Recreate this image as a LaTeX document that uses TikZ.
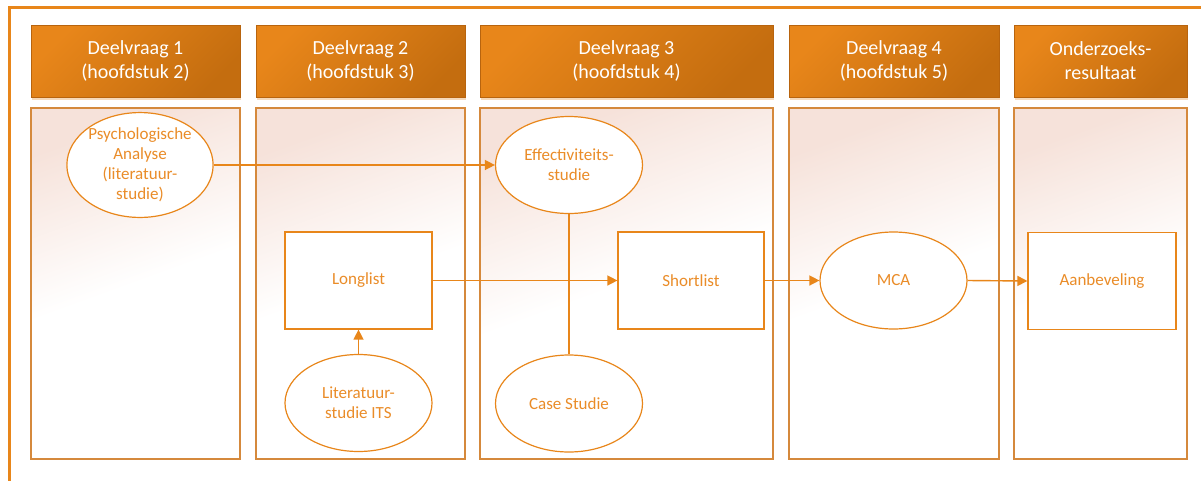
\documentclass[tikz,border=0pt]{standalone}
\usepackage{fontspec}
\setmainfont{Carlito}
\usetikzlibrary{shapes.geometric,arrows.meta,shadows}

\definecolor{accent}{HTML}{E8861A}
\definecolor{labeltxt}{HTML}{EA8C28}
\definecolor{hdrA}{HTML}{E8861A}
\definecolor{hdrB}{HTML}{C46D0F}
\definecolor{hdrEdge}{HTML}{B8640E}
\definecolor{hdrShade}{HTML}{F0C08C}
\definecolor{laneA}{HTML}{F6E2DA}
\definecolor{laneEdge}{HTML}{D5893C}

\tikzset{
  header/.style={draw=hdrEdge, line width=0.8pt, top color=hdrA, bottom color=hdrB,
    shading angle=45, text=white, align=center, inner sep=0pt,
    minimum height=72pt, font=\fontsize{20}{24}\selectfont,
    drop shadow={shadow xshift=0.5pt, shadow yshift=-3pt, fill=hdrShade, opacity=0.6}},
  lane/.style={draw=laneEdge, line width=1.4pt, top color=laneA, bottom color=white,
    middle color=white, shading angle=20, inner sep=0pt, minimum height=351pt},
  stepbox/.style={draw=accent, line width=1.2pt, fill=white, text=labeltxt,
    align=center, inner sep=0pt, minimum width=147pt, minimum height=97pt,
    font=\fontsize{17}{20}\selectfont},
  oval/.style={ellipse, draw=accent, line width=1.2pt, fill=white, text=labeltxt,
    align=center, inner sep=0pt, minimum width=147pt, minimum height=97pt,
    font=\fontsize{17}{20}\selectfont},
  link/.style={draw=accent, line width=1.4pt},
  flow/.style={link, -{Triangle[length=10pt,width=10pt]}}
}

\begin{document}
\begin{tikzpicture}[x=1pt,y=-1pt]
\useasboundingbox (0,0) rectangle (1201,480);
\clip (0,0) rectangle (1201,480);
\fill[white] (0,0) rectangle (1201,480);

% outer frame
\draw[accent, line width=3pt] (9,495) -- (9,7) -- (1215,7);

% column headers
\node[header, minimum width=209pt] (h1) at (135.5,61) {Deelvraag 1\\(hoofdstuk 2)};
\node[header, minimum width=209pt] (h2) at (360.5,61) {Deelvraag 2\\(hoofdstuk 3)};
\node[header, minimum width=293pt] (h3) at (626.5,61) {Deelvraag 3\\(hoofdstuk 4)};
\node[header, minimum width=210pt] (h4) at (894,61) {Deelvraag 4\\(hoofdstuk 5)};
\node[header, minimum width=173pt] (h5) at (1100.5,61) {Onderzoeks-\\resultaat};

% column lanes
\node[lane, minimum width=209pt] (l1) at (135.5,283.5) {};
\node[lane, minimum width=209pt] (l2) at (360.5,283.5) {};
\node[lane, minimum width=293pt] (l3) at (626.5,283.5) {};
\node[lane, minimum width=210pt] (l4) at (894,283.5) {};
\node[lane, minimum width=173pt] (l5) at (1100.5,283.5) {};

% steps
\node[oval, minimum width=146pt] (psy) at (140,165) {Psychologische\\Analyse\\(literatuur-\\studie)};
\node[oval] (eff) at (569,165) {Effectiviteits-\\studie};
\node[stepbox] (long) at (358.5,280.5) {Longlist};
\node[oval] (lit) at (358.5,403) {Literatuur-\\studie ITS};
\node[stepbox, minimum width=146pt] (short) at (691,280.5) {Shortlist};
\node[oval] (mca) at (893.5,280.5) {MCA};
\node[stepbox, minimum width=148pt] (adv) at (1102,281) {Aanbeveling};
\node[oval] (case) at (569,403.5) {Case Studie};

% connectors
\draw[link] (eff.south) -- (case.north);
\draw[flow] (psy.east) -- (eff.west);
\draw[flow] (long.east) -- (short.west);
\draw[flow] (short.east) -- (mca.west);
\draw[flow] (mca.east) -- (adv.west);
\draw[flow] (lit.north) -- (long.south);
\end{tikzpicture}
\end{document}
